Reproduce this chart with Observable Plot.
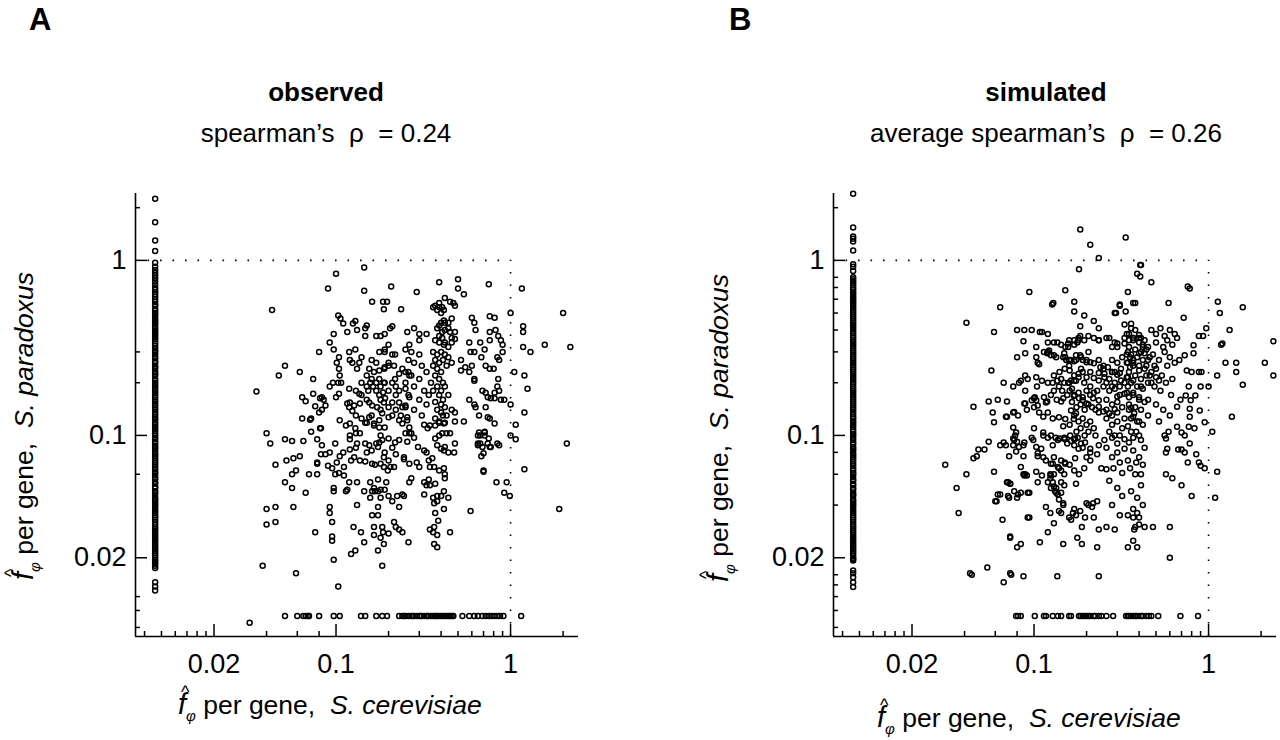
<!DOCTYPE html>
<html>
<head>
<meta charset="utf-8">
<script src="https://cdn.jsdelivr.net/npm/d3@7"></script>
<script src="https://cdn.jsdelivr.net/npm/@observablehq/plot@0.6"></script>
<style>
  body { margin: 0; background: #fff; }
  #fig { display: flex; width: 1280px; height: 740px; overflow: hidden; font-family: "Liberation Sans", Arial, sans-serif; }
  #fig svg { display: block; }
</style>
</head>
<body>
<div id="fig"></div>
<script>
// zero values are drawn on a floor line just inside the axes
const zeroX = 0.0092;
const zeroY = 0.0093;
const domainX = [0.0071, 2.45];
const domainY = [0.0071, 2.41];

const labelTicks = [0.02, 0.1, 1];
const obsMinorX = [0.008, 0.01, 0.012, 0.014, 0.016, 0.018, 0.04, 0.06, 0.08, 0.2, 0.3, 0.4, 0.5, 0.6, 0.7, 0.8, 0.9, 2];
const obsMinorY = [2, 0.3, 0.2, 0.06, 0.012, 0.01, 0.008];
const simMinorX = [0.008, 0.01, 0.012, 0.014, 0.016, 0.018, 0.04, 0.06, 0.08, 0.2, 0.3, 0.4, 0.5, 0.6, 0.7, 0.8, 0.9, 2];
const simMinorY = [2, 0.8, 0.7, 0.6, 0.5, 0.4, 0.3, 0.2, 0.08, 0.06, 0.04, 0.016, 0.014, 0.012, 0.01, 0.008];

// observed: genes with S. cerevisiae value 0 (column) and S. paradoxus value 0 (row)
const obsColumnY = [2.25, 1.65, 1.3, 1.13, 0.97, 0.92, 0.88, 0.85, 0.82, 0.79, 0.76, 0.73, 0.7, 0.68, 0.66, 0.64, 0.62, 0.6, 0.58, 0.56, 0.55,
  0.53, 0.515, 0.5, 0.49, 0.475, 0.46, 0.45, 0.44, 0.43, 0.415, 0.405, 0.395, 0.385, 0.375, 0.365, 0.355, 0.345, 0.335, 0.325, 0.315, 0.305, 0.3, 0.29, 0.28, 0.275, 0.265, 0.26, 0.25, 0.245, 0.24, 0.23, 0.225, 0.22, 0.21, 0.205, 0.2, 0.195, 0.19, 0.185, 0.18, 0.175, 0.17, 0.165, 0.16, 0.156, 0.152, 0.148, 0.144, 0.14, 0.136, 0.132, 0.128, 0.125, 0.122, 0.118, 0.115, 0.112, 0.109, 0.106, 0.103, 0.1, 0.097, 0.095, 0.092, 0.09, 0.087, 0.085, 0.083, 0.08, 0.078, 0.076, 0.074, 0.072, 0.07, 0.068, 0.066, 0.064, 0.062, 0.061, 0.059, 0.057, 0.056, 0.054, 0.053, 0.051, 0.05, 0.048, 0.047, 0.046, 0.044, 0.043, 0.042, 0.041, 0.04, 0.039, 0.038, 0.037, 0.036, 0.035, 0.034, 0.033, 0.032, 0.031, 0.03, 0.0293, 0.0285, 0.0278, 0.027, 0.0263, 0.0256, 0.025, 0.0243, 0.0236, 0.023, 0.0224, 0.0218, 0.0212, 0.0206, 0.02, 0.0195, 0.019, 0.0185, 0.018, 0.0175,
  0.0145, 0.0137, 0.013];
const obsRowX = [0.051, 0.06, 0.065, 0.067, 0.069, 0.07, 0.08, 0.097, 0.105, 0.139, 0.147, 0.17, 0.184, 0.196,
  0.23, 0.24, 0.245, 0.25, 0.26, 0.27, 0.275, 0.28, 0.29, 0.3, 0.305, 0.31, 0.32, 0.33, 0.335, 0.34, 0.35, 0.36, 0.37, 0.375, 0.38, 0.39, 0.4, 0.41, 0.42, 0.43, 0.44, 0.45, 0.46, 0.47,
  0.53, 0.58, 0.62, 0.65, 0.69, 0.72, 0.75, 0.78, 0.81, 0.84, 0.87, 0.91, 1.15];
const obsPoints = [
  [0.043,0.52],[0.08,0.30],[0.035,0.178],[0.051,0.25],[0.047,0.22],[0.062,0.23],[0.074,0.21],[0.064,0.165],[0.067,0.157],[0.076,0.147],[0.08,0.135],[0.071,0.123],[0.072,0.125],[0.064,0.125],[0.081,0.163],[0.081,0.11],[0.072,0.105],[0.078,0.095],[0.04,0.103],[0.042,0.09],[0.051,0.095],[0.056,0.093],[0.065,0.093],[0.045,0.068],[0.052,0.072],[0.057,0.074],[0.062,0.076],[0.059,0.063],[0.056,0.06],[0.07,0.06],[0.078,0.06],[0.078,0.07],[0.051,0.054],[0.056,0.05],[0.067,0.047],[0.04,0.038],[0.045,0.039],[0.057,0.039],[0.04,0.031],[0.045,0.032],[0.076,0.028],[0.038,0.018],[0.059,0.0163],[0.032,0.0085],
  [0.103,0.0137],[0.097,0.0195],[0.092,0.039],[0.092,0.036],[0.095,0.032],[0.095,0.0265],[0.095,0.025],[0.097,0.05],[0.097,0.048],[0.114,0.048],[0.132,0.04],[0.126,0.03],[0.139,0.028],[0.145,0.0245],[0.122,0.021],[0.129,0.022],[0.174,0.022],[0.184,0.018],[0.161,0.035],[0.174,0.035],[0.174,0.039],[0.165,0.03],[0.165,0.027],[0.184,0.03],[0.186,0.028],[0.18,0.026],[0.188,0.024],[0.2,0.0275],[0.215,0.032],[0.22,0.03],[0.23,0.029],[0.23,0.039],[0.26,0.0245],
  [0.095,0.065],[0.099,0.06],[0.104,0.061],[0.111,0.059],[0.119,0.054],[0.132,0.054],[0.116,0.049],[0.157,0.054],[0.174,0.056],[0.194,0.054],[0.165,0.05],[0.167,0.048],[0.18,0.049],[0.19,0.049],[0.2,0.045],[0.21,0.042],[0.224,0.045],[0.24,0.046],[0.245,0.045],[0.078,0.069],[0.082,0.078],[0.092,0.08],[0.087,0.078],[0.105,0.076],[0.082,0.11],[0.083,0.088],[0.099,0.09],[0.12,0.095],[0.132,0.09],[0.147,0.09],[0.155,0.088],[0.17,0.09],[0.184,0.094],[0.2,0.096],[0.218,0.091],[0.23,0.094],[0.263,0.103],[0.25,0.103],
  [0.105,0.122],[0.114,0.114],[0.12,0.117],[0.129,0.11],[0.12,0.1],[0.13,0.103],[0.137,0.103],[0.15,0.118],[0.165,0.114],[0.177,0.111],[0.19,0.111],[0.18,0.1],[0.177,0.091],[0.174,0.086],[0.23,0.122],[0.24,0.117],[0.263,0.111],[0.256,0.092],[0.09,0.067],[0.101,0.07],[0.111,0.066],[0.122,0.072],[0.127,0.075],[0.137,0.072],[0.147,0.071],[0.161,0.069],[0.167,0.068],[0.18,0.069],[0.188,0.066],[0.198,0.063],[0.215,0.066],[0.245,0.075],[0.245,0.073],[0.263,0.069],[0.263,0.054],[0.188,0.075],[0.2,0.072],[0.205,0.066],[0.145,0.048],[0.157,0.044],[0.161,0.048],[0.174,0.048],[0.18,0.044],
  [0.256,0.122],[0.27,0.103],[0.28,0.097],[0.295,0.086],[0.32,0.082],[0.33,0.08],[0.32,0.115],[0.345,0.114],[0.335,0.11],[0.37,0.114],[0.39,0.118],[0.415,0.117],[0.42,0.118],[0.37,0.096],[0.39,0.1],[0.406,0.103],[0.38,0.088],[0.4,0.084],[0.415,0.082],[0.42,0.086],[0.44,0.08],[0.475,0.08],[0.48,0.09],[0.43,0.103],[0.45,0.103],[0.345,0.066],[0.365,0.066],[0.39,0.063],[0.415,0.065],[0.42,0.06],[0.42,0.057],[0.356,0.074],[0.34,0.072],[0.29,0.07],[0.3,0.066],[0.27,0.057],[0.32,0.054],[0.34,0.056],[0.33,0.052],[0.345,0.052],[0.37,0.053],[0.32,0.046],[0.36,0.044],[0.38,0.045],[0.4,0.045],[0.415,0.048],[0.44,0.044],[0.38,0.042],[0.365,0.041],[0.415,0.038],[0.37,0.036],[0.385,0.0326],[0.365,0.03],[0.345,0.029],[0.36,0.028],[0.38,0.027],[0.45,0.028],[0.365,0.024],[0.38,0.023],[0.24,0.028],
  [1.07,0.115],[1.0,0.1],[1.07,0.095],[2.1,0.09],[1.2,0.064],[0.83,0.054],[0.95,0.054],[0.92,0.047],[0.99,0.045],[0.59,0.037],[1.9,0.038],[0.65,0.1],[0.71,0.105],[0.75,0.096],[0.65,0.09],[0.69,0.086],[0.76,0.086],[0.84,0.09],[0.86,0.088],[0.7,0.079],[0.68,0.076],[0.7,0.063],[0.7,0.062],
  [1.16,0.69],[2.0,0.5],[1.0,0.5],[1.18,0.42],[1.18,0.39],[1.57,0.33],[2.2,0.32],[1.18,0.32],[1.3,0.30],[1.05,0.23],[1.2,0.22],[1.25,0.185],[1.0,0.15],[1.2,0.135],[0.39,0.75],[0.5,0.78],[0.5,0.69],[0.54,0.64],[0.75,0.73],[0.29,0.66],[0.42,0.61],
  [0.36,0.54],[0.37,0.55],[0.39,0.57],[0.39,0.54],[0.406,0.54],[0.415,0.52],[0.4,0.5],[0.38,0.52],[0.45,0.58],[0.47,0.57],[0.48,0.55],
  [0.6,0.47],[0.62,0.44],[0.76,0.48],[0.81,0.47],[0.256,0.39],[0.3,0.38],[0.33,0.38],[0.3,0.35],[0.28,0.41],
  [0.38,0.41],[0.39,0.425],[0.4,0.44],[0.415,0.454],[0.42,0.44],[0.44,0.44],[0.46,0.465],[0.406,0.39],[0.42,0.4],[0.44,0.41],[0.45,0.39],[0.48,0.39],[0.39,0.37],[0.406,0.36],[0.42,0.34],[0.39,0.34],[0.415,0.33],[0.44,0.32],[0.46,0.34],[0.48,0.355],[0.37,0.35],[0.46,0.36],
  [0.58,0.34],[0.63,0.4],[0.67,0.34],[0.71,0.31],[0.76,0.39],[0.76,0.35],[0.82,0.4],[0.88,0.35],[0.9,0.33],[0.85,0.37],[0.59,0.3],[0.62,0.3],[0.68,0.28],[0.76,0.24],[0.84,0.28],[0.86,0.27],[0.8,0.24],[0.72,0.25],[0.9,0.3],[0.52,0.27],[0.55,0.245],[0.52,0.235],[0.58,0.23],[0.6,0.25],[0.62,0.21],[0.62,0.205],[0.85,0.21],[0.84,0.19],[0.86,0.18],[0.81,0.175],[0.72,0.175],[0.69,0.18],[0.74,0.165],[0.77,0.163],[0.81,0.163],[0.88,0.16],[0.92,0.16],[0.58,0.16],[0.62,0.15],[0.63,0.145],[0.66,0.13],[0.72,0.145],[0.76,0.125],[0.81,0.117],[0.74,0.127],[0.66,0.104],[0.71,0.104],[0.67,0.1],[0.71,0.1],[0.54,0.12],[0.48,0.135],[0.65,0.088],[0.67,0.09],[0.74,0.09],[0.77,0.086],
  [0.36,0.3],[0.38,0.29],[0.4,0.3],[0.42,0.29],[0.37,0.27],[0.39,0.26],[0.41,0.27],[0.44,0.28],[0.36,0.25],[0.38,0.24],[0.4,0.23],[0.43,0.25],[0.46,0.26],[0.37,0.22],[0.39,0.21],[0.41,0.2],[0.38,0.19],[0.4,0.18],[0.42,0.19],[0.36,0.18],[0.39,0.17],[0.41,0.16],[0.44,0.17],[0.37,0.155],[0.4,0.15],[0.42,0.145],[0.38,0.14],[0.4,0.135],[0.43,0.13],[0.37,0.125],[0.39,0.12],[0.41,0.13],[0.46,0.14],[0.48,0.12],
  [0.25,0.31],[0.27,0.3],[0.3,0.29],[0.26,0.27],[0.28,0.26],[0.31,0.25],[0.24,0.24],[0.27,0.22],[0.3,0.21],[0.33,0.23],[0.25,0.2],[0.28,0.19],[0.32,0.18],[0.26,0.17],[0.3,0.16],[0.33,0.15],[0.25,0.145],[0.28,0.14],[0.31,0.13],[0.35,0.2],[0.34,0.17],
  [0.145,0.91],[0.1,0.84],[0.09,0.69],[0.145,0.67],[0.207,0.71],[0.161,0.58],[0.186,0.58],[0.196,0.58],[0.188,0.525],[0.236,0.525],[0.103,0.485],[0.106,0.466],[0.11,0.436],[0.125,0.436],[0.129,0.45],[0.15,0.425],[0.147,0.41],[0.21,0.42],[0.204,0.41],
  [0.097,0.38],[0.116,0.39],[0.132,0.4],[0.147,0.37],[0.17,0.37],[0.18,0.37],[0.19,0.38],[0.092,0.34],[0.097,0.31],[0.263,0.33],[0.2,0.33],[0.19,0.31],[0.19,0.3],[0.177,0.3],[0.119,0.3],[0.129,0.31],[0.104,0.28],[0.101,0.26],[0.104,0.24],[0.12,0.27],[0.124,0.26],[0.136,0.26],[0.132,0.24],[0.155,0.24],[0.165,0.23],[0.177,0.235],[0.189,0.24],[0.2,0.25],[0.215,0.25],[0.218,0.29],[0.21,0.29],[0.2,0.26],[0.25,0.23],[0.26,0.23],[0.263,0.22],
  [0.074,0.173],[0.083,0.165],[0.085,0.16],[0.087,0.148],[0.083,0.14],[0.092,0.19],[0.096,0.2],[0.1,0.165],[0.104,0.173],[0.107,0.2],[0.105,0.22],[0.103,0.2],[0.119,0.185],[0.13,0.18],[0.136,0.173],[0.12,0.154],[0.116,0.152],[0.119,0.145],[0.127,0.148],[0.137,0.152],[0.124,0.138],[0.15,0.19],[0.157,0.2],[0.163,0.19],[0.153,0.18],[0.17,0.18],[0.177,0.17],[0.186,0.176],[0.191,0.163],[0.2,0.18],
  [0.25,0.185],[0.218,0.21],[0.23,0.225],[0.188,0.2],[0.177,0.21],[0.19,0.245],[0.188,0.154],[0.161,0.148],[0.155,0.154],[0.172,0.145],[0.184,0.134],[0.2,0.145],[0.21,0.154],[0.23,0.154],[0.24,0.145],[0.25,0.148],[0.263,0.165],[0.235,0.13],[0.256,0.127],[0.2,0.127],[0.177,0.122],[0.155,0.127],[0.165,0.117],[0.147,0.118],
  [0.14,0.28],[0.16,0.27],[0.17,0.26],[0.15,0.22],[0.16,0.21],[0.14,0.2],[0.17,0.2],[0.18,0.19],[0.19,0.2],[0.21,0.2],[0.22,0.19],[0.14,0.17],[0.15,0.16],[0.18,0.16],[0.22,0.17],[0.23,0.18],[0.13,0.13],[0.14,0.125],[0.16,0.13],[0.18,0.14],[0.21,0.13],[0.22,0.14],[0.13,0.085],[0.15,0.08],[0.16,0.082],[0.19,0.08],[0.21,0.085],[0.22,0.078],[0.12,0.083],[0.11,0.08]
];

// simulated
const simColumnY = [2.4, 1.54, 1.37, 1.33, 1.28, 1.14, 0.95, 0.92, 0.87, 0.8, 0.78, 0.76, 0.74, 0.72, 0.7, 0.68, 0.66, 0.645,
  0.625, 0.61, 0.595, 0.58, 0.565, 0.55, 0.535, 0.52, 0.505, 0.49, 0.478, 0.465, 0.452, 0.44, 0.428, 0.416, 0.405, 0.394, 0.383, 0.372, 0.362, 0.352, 0.342, 0.333, 0.324, 0.315, 0.306, 0.298, 0.29, 0.282, 0.274, 0.266, 0.259, 0.252, 0.245, 0.238, 0.231, 0.225, 0.219, 0.213, 0.207, 0.201, 0.196, 0.19, 0.185, 0.18, 0.175, 0.17, 0.165, 0.161, 0.156, 0.152, 0.148, 0.144, 0.14, 0.136, 0.132, 0.128, 0.125, 0.121, 0.118, 0.115, 0.112, 0.108, 0.105, 0.102, 0.1, 0.097, 0.094, 0.091, 0.089, 0.086, 0.084, 0.082, 0.079, 0.077, 0.075, 0.073, 0.071, 0.069, 0.067, 0.065, 0.063, 0.061, 0.06, 0.058, 0.056, 0.055, 0.053, 0.052, 0.05, 0.049, 0.047, 0.046, 0.045, 0.043, 0.042, 0.041, 0.04, 0.039, 0.038, 0.037, 0.036, 0.035, 0.034, 0.033, 0.032, 0.031, 0.0302, 0.0294, 0.0286, 0.0278, 0.027, 0.0263, 0.0256, 0.0249, 0.0242, 0.0236, 0.023, 0.0224, 0.0218, 0.0212, 0.0206, 0.02, 0.0196, 0.0193,
  0.0169, 0.0163, 0.0155, 0.0145, 0.0136];
const simRowX = [0.079, 0.081, 0.084, 0.101, 0.114, 0.117, 0.128, 0.137, 0.143, 0.159, 0.163, 0.181, 0.185, 0.19, 0.195, 0.2, 0.205, 0.21, 0.22, 0.224, 0.235, 0.243, 0.26, 0.284,
  0.337, 0.345, 0.35, 0.36, 0.37, 0.38, 0.385, 0.395, 0.41, 0.42, 0.44, 0.455, 0.47, 0.515, 0.69, 0.87];
const simPoints = [
  [0.094,0.66],[0.151,0.674],[0.17,0.58],[0.17,0.51],[0.181,0.89],[0.184,1.5],[0.064,0.54],[0.127,0.56],[0.041,0.44],[0.059,0.39],[0.08,0.4],[0.088,0.4],[0.097,0.4],[0.111,0.39],[0.087,0.345],[0.103,0.32],[0.12,0.34],[0.136,0.34],[0.157,0.32],[0.177,0.34],[0.089,0.295],[0.08,0.28],[0.114,0.3],[0.119,0.295],[0.13,0.287],[0.151,0.28],[0.159,0.27],[0.174,0.27],[0.105,0.26],[0.107,0.255],
  [0.057,0.235],[0.067,0.2],[0.076,0.19],[0.082,0.2],[0.084,0.205],[0.089,0.22],[0.092,0.21],[0.103,0.215],[0.111,0.205],[0.12,0.2],[0.128,0.2],[0.136,0.205],[0.143,0.21],[0.089,0.18],[0.104,0.19],[0.114,0.165],[0.13,0.18],[0.139,0.19],[0.147,0.163],[0.169,0.168],[0.157,0.2],[0.174,0.205],
  [0.045,0.146],[0.055,0.156],[0.062,0.16],[0.07,0.156],[0.088,0.152],[0.101,0.165],[0.103,0.159],[0.119,0.156],[0.143,0.156],[0.058,0.135],[0.07,0.128],[0.077,0.136],[0.081,0.13],[0.091,0.14],[0.1,0.145],[0.107,0.135],[0.113,0.128],[0.12,0.135],[0.128,0.125],[0.139,0.127],[0.147,0.113],[0.151,0.124],[0.169,0.124],
  [0.031,0.068],[0.036,0.05],[0.037,0.036],[0.041,0.06],[0.045,0.074],[0.047,0.076],[0.048,0.083],[0.052,0.083],[0.055,0.092],[0.059,0.062],[0.06,0.042],[0.062,0.046],[0.066,0.033],[0.071,0.045],[0.071,0.054],[0.073,0.053],[0.076,0.088],[0.076,0.096],[0.081,0.046],[0.084,0.047],[0.087,0.076],[0.088,0.059],[0.091,0.059],[0.092,0.047],[0.094,0.034],[0.099,0.094],[0.103,0.086],[0.108,0.0245],[0.11,0.084],[0.111,0.059],[0.117,0.039],[0.12,0.097],[0.12,0.028],[0.125,0.059],[0.128,0.054],[0.13,0.0315],[0.132,0.048],[0.134,0.047],[0.139,0.037],[0.143,0.047],[0.147,0.041],[0.149,0.052],[0.159,0.034],[0.167,0.036],[0.17,0.038],[0.174,0.053],
  [0.043,0.0163],[0.054,0.0176],[0.067,0.0145],[0.073,0.0163],[0.08,0.023],[0.084,0.024],[0.073,0.0265],[0.087,0.0157],[0.136,0.0157],[0.147,0.024],
  [0.1,0.11],[0.113,0.104],[0.125,0.1],[0.133,0.097],[0.14,0.096],[0.15,0.095],[0.155,0.09],[0.163,0.093],[0.17,0.095],[0.178,0.097],
  [0.105,0.076],[0.117,0.072],[0.128,0.069],[0.137,0.066],[0.143,0.063],[0.15,0.07],[0.16,0.068],[0.172,0.074],[0.08,0.092],[0.082,0.086],[0.079,0.081],
  [0.21,1.23],[0.235,1.03],[0.129,0.57],[0.194,0.485],[0.22,0.45],[0.184,0.42],[0.235,0.41],
  [0.151,0.32],[0.159,0.35],[0.17,0.33],[0.18,0.35],[0.235,0.35],[0.27,0.36],[0.29,0.34],[0.3,0.32],[0.33,0.335],[0.35,0.35],[0.37,0.36],[0.4,0.375],[0.36,0.435],
  [0.103,0.28],[0.12,0.3],[0.125,0.287],[0.147,0.28],[0.153,0.27],[0.159,0.25],[0.17,0.265],[0.174,0.287],[0.184,0.287],[0.19,0.27],[0.2,0.262],[0.21,0.262],[0.235,0.27],[0.24,0.245],[0.25,0.24],[0.186,0.24],[0.205,0.3],
  [0.18,0.225],[0.19,0.23],[0.2,0.215],[0.21,0.23],[0.22,0.213],[0.235,0.227],[0.253,0.215],[0.28,0.23],[0.29,0.23],[0.3,0.222],[0.31,0.227],[0.34,0.215],[0.355,0.245],[0.149,0.2],[0.159,0.2],[0.17,0.205],
  [0.059,0.119],[0.069,0.128],[0.076,0.135],[0.076,0.111],[0.079,0.104],[0.089,0.152],[0.097,0.159],[0.1,0.163],[0.105,0.148],[0.117,0.154],[0.163,0.139],[0.174,0.134],[0.181,0.163],[0.19,0.159],[0.2,0.152],[0.218,0.163],[0.235,0.159],[0.235,0.146],[0.25,0.137],[0.27,0.134],[0.29,0.141],[0.3,0.167],[0.33,0.173],[0.35,0.165],[0.36,0.144],[0.375,0.134],[0.4,0.12],
  [0.345,0.66],[0.37,0.57],[0.31,0.56],[0.335,0.51],[0.29,0.5],[0.39,0.84],[0.41,0.94],[0.345,0.3],[0.355,0.28],[0.37,0.26],[0.4,0.235],[0.345,0.19],[0.37,0.175],[0.4,0.16],[0.35,0.14],[0.37,0.128],[0.345,0.113],[0.385,0.105],
  [0.067,0.091],[0.064,0.088],[0.069,0.088],[0.072,0.076],[0.077,0.094],[0.078,0.1],[0.087,0.088],[0.084,0.066],[0.087,0.06],[0.089,0.06],[0.103,0.062],[0.124,0.06],[0.124,0.057],[0.105,0.054],[0.12,0.054],[0.125,0.05],
  [0.061,0.042],[0.064,0.046],[0.072,0.044],[0.077,0.048],[0.08,0.044],[0.094,0.047],[0.073,0.053],[0.07,0.054],
  [0.073,0.026],[0.092,0.034],[0.124,0.036],[0.143,0.036],[0.147,0.04],[0.139,0.043],[0.137,0.046],[0.134,0.05],[0.13,0.051],[0.143,0.054],[0.149,0.06],[0.163,0.033],[0.174,0.035],[0.177,0.026],[0.184,0.037],[0.188,0.024],[0.188,0.03],[0.196,0.034],[0.205,0.04],[0.2,0.041],[0.215,0.039],[0.218,0.041],[0.22,0.034],[0.23,0.023],[0.235,0.029],[0.26,0.03],[0.29,0.029],[0.23,0.042],
  [0.345,0.023],[0.37,0.025],[0.39,0.023],[0.375,0.029],[0.345,0.035],[0.37,0.034],[0.39,0.036],[0.4,0.034],[0.044,0.016],[0.074,0.016],[0.235,0.0157],
  [0.088,0.091],[0.097,0.097],[0.113,0.1],[0.128,0.088],[0.137,0.094],[0.149,0.097],[0.161,0.1],[0.172,0.096],[0.186,0.09],[0.196,0.091],[0.18,0.084],[0.21,0.084],[0.235,0.088],[0.253,0.094],[0.28,0.097],[0.3,0.09],[0.33,0.084],[0.35,0.091],[0.37,0.097],[0.41,0.094],
  [0.105,0.079],[0.113,0.075],[0.125,0.069],[0.13,0.075],[0.143,0.072],[0.151,0.069],[0.17,0.063],[0.181,0.06],[0.194,0.065],[0.21,0.072],[0.243,0.065],[0.26,0.064],[0.285,0.065],[0.32,0.061],[0.345,0.072],[0.355,0.065],[0.385,0.07],[0.41,0.06],[0.13,0.06],[0.139,0.065],
  [0.335,1.35],[0.406,0.94],[0.406,0.81],[0.47,0.75],[0.76,0.71],[0.78,0.69],[0.184,0.37],[0.31,0.55],[0.295,0.5],[0.38,0.57],[0.59,0.57],[1.13,0.58],[1.16,0.5],[1.57,0.54],[0.72,0.47],[0.97,0.41],[0.88,0.37],[0.93,0.37],[1.32,0.4],[1.2,0.335],[1.18,0.33],[2.35,0.345],[2.1,0.26],[2.35,0.22],[1.44,0.26],[1.44,0.23],[1.57,0.195],[1.25,0.26],[1.36,0.128],[1.12,0.22],[1.0,0.19],[1.05,0.105],[1.12,0.062],[1.09,0.044],
  [0.95,0.119],[0.89,0.139],[0.84,0.169],[0.9,0.19],[0.8,0.23],[0.88,0.23],[0.91,0.23],[0.75,0.235],[0.68,0.27],[0.73,0.287],[0.82,0.295],[0.82,0.327],[0.77,0.19],[0.74,0.169],[0.79,0.159],[0.69,0.16],[0.66,0.146],[0.78,0.142],[0.78,0.128],[0.77,0.112],[0.83,0.11],[0.73,0.1],[0.78,0.09],[0.66,0.112],[0.7,0.104],[0.59,0.105],[0.57,0.096],[0.58,0.084],[0.57,0.08],[0.67,0.083],[0.7,0.083],[0.73,0.08],[0.76,0.07],[0.85,0.078],[0.88,0.07],[0.9,0.067],[0.95,0.065],[0.57,0.06],[0.62,0.057],[0.7,0.052],[0.8,0.045],[0.6,0.03],[0.6,0.02],[0.48,0.03],[0.43,0.03],[0.38,0.03],
  [0.33,0.43],[0.36,0.41],[0.38,0.4],[0.34,0.38],[0.37,0.36],[0.4,0.34],[0.42,0.33],[0.35,0.32],[0.38,0.31],[0.41,0.3],[0.44,0.31],[0.36,0.29],[0.39,0.28],[0.42,0.27],[0.46,0.28],[0.34,0.26],[0.37,0.25],[0.4,0.25],[0.43,0.24],[0.35,0.23],[0.38,0.22],[0.41,0.21],[0.44,0.22],[0.36,0.2],[0.39,0.19],[0.42,0.185],[0.47,0.2],[0.34,0.175],[0.37,0.17],[0.4,0.165],[0.43,0.155],[0.35,0.15],[0.38,0.145],[0.41,0.14],[0.45,0.13],[0.36,0.125],[0.39,0.12],[0.42,0.115],[0.36,0.105],[0.4,0.1],[0.43,0.085],[0.37,0.082],[0.4,0.075],[0.42,0.068],[0.38,0.06],[0.41,0.052],[0.36,0.048],[0.39,0.044],[0.42,0.04],[0.37,0.038],[0.4,0.031],
  [0.47,0.4],[0.5,0.38],[0.53,0.41],[0.56,0.37],[0.6,0.4],[0.64,0.38],[0.5,0.34],[0.55,0.32],[0.58,0.35],[0.62,0.33],[0.66,0.36],[0.48,0.29],[0.52,0.27],[0.56,0.3],[0.6,0.28],[0.64,0.26],[0.5,0.24],[0.54,0.22],[0.58,0.25],[0.62,0.21],[0.49,0.19],[0.53,0.18],[0.57,0.2],[0.61,0.17],[0.5,0.15],[0.55,0.14],[0.6,0.13],[0.52,0.12],[0.56,0.1],
  [0.16,0.18],[0.17,0.17],[0.18,0.175],[0.19,0.165],[0.2,0.18],[0.21,0.17],[0.22,0.175],[0.23,0.18],[0.165,0.155],[0.175,0.145],[0.185,0.15],[0.195,0.14],[0.205,0.15],[0.215,0.145],[0.225,0.14],[0.235,0.135],[0.17,0.13],[0.18,0.12],[0.19,0.125],[0.2,0.115],[0.21,0.12],[0.22,0.11],[0.16,0.115],[0.175,0.105],[0.185,0.11],[0.195,0.1],[0.205,0.105],[0.225,0.1],[0.17,0.088],[0.19,0.085],[0.21,0.08],[0.23,0.078],[0.2,0.075],
  [0.25,0.19],[0.27,0.18],[0.29,0.185],[0.31,0.17],[0.26,0.16],[0.28,0.15],[0.3,0.155],[0.32,0.145],[0.26,0.125],[0.28,0.13],[0.3,0.12],[0.32,0.11],[0.27,0.105],[0.29,0.1],[0.26,0.085],[0.3,0.08],[0.28,0.075],[0.31,0.07],[0.27,0.055],[0.3,0.05],[0.32,0.045],[0.28,0.04],[0.31,0.035],
  [0.108,0.39],[0.12,0.38],[0.13,0.34],[0.143,0.33],[0.157,0.335],[0.17,0.35],[0.18,0.36],[0.194,0.35],[0.205,0.37],[0.22,0.36],[0.235,0.35],[0.26,0.36],[0.28,0.32],[0.3,0.335],[0.33,0.36],[0.35,0.38],[0.37,0.35],[0.4,0.36],[0.41,0.36],[0.43,0.35],
  [0.122,0.306],[0.134,0.28],[0.149,0.295],[0.163,0.27],[0.186,0.28],[0.2,0.27],[0.22,0.258],[0.25,0.25],[0.265,0.245],[0.28,0.23],[0.315,0.24],[0.345,0.26],[0.37,0.27],[0.4,0.295],[0.43,0.295],[0.45,0.27],[0.49,0.25],[0.47,0.23],[0.5,0.215],[0.52,0.206],
  [0.163,0.206],[0.18,0.215],[0.194,0.2],[0.21,0.19],[0.235,0.206],[0.253,0.225],[0.28,0.19],[0.315,0.206],[0.345,0.215],[0.37,0.206],[0.41,0.19],[0.45,0.2],
  [0.14,0.23],[0.15,0.24],[0.16,0.235],[0.17,0.22],[0.13,0.22],[0.145,0.18],[0.155,0.17],[0.165,0.185],[0.125,0.17],[0.135,0.16],[0.26,0.2],[0.27,0.21],[0.29,0.2],[0.31,0.19],[0.33,0.2],[0.26,0.14],[0.28,0.115],[0.3,0.135],[0.33,0.125],[0.31,0.1],[0.33,0.095],[0.34,0.29],[0.32,0.28],[0.3,0.26],[0.28,0.27],[0.42,0.32],[0.45,0.32],[0.44,0.25],[0.46,0.22],[0.45,0.16]
];

const font = "Liberation Sans, Arial, sans-serif";

function scatter(points, columnY, rowX, minorX, minorY, ml, mr) {
  const dots = points.map(([x, y]) => ({x, y}))
    .concat(columnY.map(y => ({x: zeroX, y})))
    .concat(rowX.map(x => ({x, y: zeroY})));
  const fw = 640 - ml - mr;
  const fh = 740 - 193 - 104;
  return Plot.plot({
    width: 640,
    height: 740,
    marginLeft: ml,
    marginRight: mr,
    marginTop: 193,
    marginBottom: 104,
    style: {fontFamily: font, fontSize: "27px", color: "black", background: "white"},
    x: {type: "log", domain: domainX},
    y: {type: "log", domain: domainY},
    marks: [
      Plot.ruleY([1], {x1: domainX[0], x2: 1, stroke: "black", strokeWidth: 1.6, strokeDasharray: "1.6,10.9"}),
      Plot.ruleX([1], {y1: domainY[0], y2: 1, stroke: "black", strokeWidth: 1.6, strokeDasharray: "1.6,10.9"}),
      Plot.dot(dots, {x: "x", y: "y", r: 2.5, stroke: "black", strokeWidth: 1.5, fill: "none"}),
      Plot.ruleX([domainX[0]], {stroke: "black", strokeWidth: 1.6}),
      Plot.ruleY([domainY[0]], {stroke: "black", strokeWidth: 1.6}),
      Plot.tickX(labelTicks, {x: d => d, insetTop: fh - 12, stroke: "black", strokeWidth: 1.5}),
      Plot.tickX(minorX, {x: d => d, insetTop: fh - 5, stroke: "black", strokeWidth: 1.5}),
      Plot.tickY(labelTicks, {y: d => d, insetRight: fw - 12, stroke: "black", strokeWidth: 1.5}),
      Plot.tickY(minorY, {y: d => d, insetRight: fw - 5, stroke: "black", strokeWidth: 1.5}),
      Plot.axisX({ticks: labelTicks, tickSize: 0, tickPadding: 17, fontSize: 27, tickFormat: d => String(d), label: null}),
      Plot.axisY({ticks: labelTicks, tickSize: 0, tickPadding: 9, fontSize: 27, tickFormat: d => String(d), label: null})
    ]
  });
}

// f-hat label with subscript phi, all in one text; rot = -90 for the y label
function axisTitle(svg, tx, ty, rot, species) {
  const t = d3.select(svg).append("text")
    .attr("transform", `translate(${tx},${ty}) rotate(${rot})`)
    .attr("font-family", font).attr("font-size", 26.5).attr("fill", "black")
    .attr("text-anchor", "start");
  t.append("tspan").attr("x", 3).attr("y", -16).attr("font-size", 18).text("^");
  t.append("tspan").attr("x", 0).attr("y", 0).attr("font-style", "italic").attr("font-size", 29).text("f");
  t.append("tspan").attr("font-style", "italic").attr("font-size", 15).attr("dy", 7).text("\u03c6");
  t.append("tspan").attr("dy", -7).text("\u00a0per gene,\u00a0\u00a0");
  t.append("tspan").attr("font-style", "italic").text("S.\u00a0" + species);
}

function heading(svg, letter, lx, cx, title, sub) {
  const s = d3.select(svg).append("g").attr("font-family", font).attr("fill", "black");
  s.append("text").attr("x", lx).attr("y", 30).attr("text-anchor", "start")
    .attr("font-size", 31).attr("font-weight", "bold").text(letter);
  s.append("text").attr("x", cx).attr("y", 101).attr("text-anchor", "middle")
    .attr("font-size", 26).attr("font-weight", "bold").text(title);
  s.append("text").attr("x", cx).attr("y", 142).attr("text-anchor", "middle")
    .attr("font-size", 26).text(sub);
}

const chartA = scatter(obsPoints, obsColumnY, obsRowX, obsMinorX, obsMinorY, 135, 62);
heading(chartA, "A", 29, 326, "observed", "spearman\u2019s\u00a0\u00a0\u03c1\u00a0 = 0.24");
axisTitle(chartA, 178, 714, 0, "cerevisiae");
axisTitle(chartA, 33, 580, -90, "paradoxus");

const chartB = scatter(simPoints, simColumnY, simRowX, simMinorX, simMinorY, 193, 4);
heading(chartB, "B", 89, 406, "simulated", "average spearman\u2019s\u00a0\u00a0\u03c1\u00a0 = 0.26");
axisTitle(chartB, 237, 727, 0, "cerevisiae");
axisTitle(chartB, 88, 582, -90, "paradoxus");

d3.select("#fig").append(() => chartA);
d3.select("#fig").append(() => chartB);
</script>
</body>
</html>
